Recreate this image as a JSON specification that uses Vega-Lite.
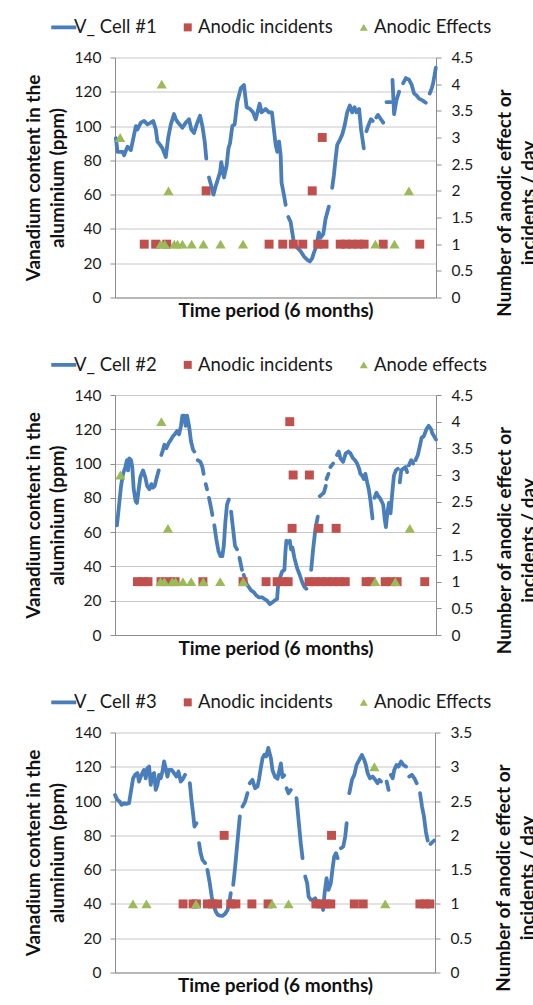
{
  "$schema": "https://vega.github.io/schema/vega-lite/v6.json",
  "padding": {"top": 17.5, "left": 24, "right": 0, "bottom": 0},
  "background": "white",
  "bounds": "flush",
  "spacing": 97.5,
  "config": {
    "font": "Lato",
    "view": {"stroke": null},
    "axis": {
      "labelFont": "Lato", "titleFont": "Lato", "labelColor": "#1a1a1a", "titleColor": "#111",
      "domainColor": "#8c8c8c", "tickColor": "#8c8c8c", "gridColor": "#c8c8c8", "gridWidth": 1.2,
      "labelFontSize": 15.5, "titleFontSize": 19, "titleFontWeight": "bold", "titleLineHeight": 24
    },
    "axisX": {"labels": false, "ticks": false, "grid": false, "titlePadding": 4},
    "axisLeft": {"grid": true, "tickSize": 5, "labelPadding": 9, "titlePadding": 7},
    "axisRight": {"grid": false, "tickSize": 5, "labelPadding": 10, "titlePadding": 18, "titleAngle": -90, "titleY": 145},
    "legend": {"labelFont": "Lato", "labelFontSize": 18.5, "labelColor": "#1a1a1a", "orient": "none", "legendX": -60.5, "legendY": -39.5, "direction": "horizontal", "title": null, "symbolSize": 625, "labelOffset": 1, "columnPadding": 21}
  },
  "datasets": {
    "line1": [
      {"t":0.5,"v":93},{"t":1.4,"v":85},{"t":4.2,"v":85},{"t":5.1,"v":83},{"t":7.0,"v":88},{"t":8.9,"v":86},{"t":11.7,"v":100},{"t":12.6,"v":98},{"t":14.5,"v":102},{"t":16.3,"v":103},{"t":18.2,"v":101},{"t":20.1,"v":102},{"t":21.4,"v":103},{"t":22.9,"v":98},{"t":23.8,"v":91},{"t":25.3,"v":89},{"t":26.6,"v":87},{"t":28.5,"v":82},{"t":29.8,"v":93},{"t":31.3,"v":101},{"t":33.1,"v":107},{"t":34.1,"v":104},{"t":35.4,"v":102},{"t":37.8,"v":99},{"t":39.7,"v":102},{"t":41.5,"v":104},{"t":42.8,"v":98},{"t":44.3,"v":96},{"t":45.8,"v":101},{"t":47.7,"v":106},{"t":49.0,"v":100},{"t":50.3,"v":91},{"t":51.2,"v":81},{"t":52.0,"v":null},
      {"t":52.7,"v":70},{"t":54.0,"v":65},{"t":55.2,"v":60},{"t":56.5,"v":65},{"t":57.4,"v":68},{"t":58.9,"v":73},{"t":59.6,"v":79},{"t":61.1,"v":70},{"t":62.6,"v":77},{"t":63.6,"v":87},{"t":64.5,"v":90},{"t":65.8,"v":100},{"t":67.1,"v":101},{"t":68.6,"v":114},{"t":70.5,"v":122},{"t":72.3,"v":124},{"t":73.8,"v":111},{"t":75.7,"v":110},{"t":77.4,"v":108},{"t":78.9,"v":104},{"t":81.1,"v":113},{"t":82.2,"v":108},{"t":84.5,"v":110},{"t":86.3,"v":108},{"t":88.0,"v":108},{"t":89.1,"v":98},{"t":90.1,"v":89},{"t":91.0,"v":85},{"t":92.0,"v":91},{"t":92.9,"v":83},{"t":93.4,"v":67},{"t":94.7,"v":60},{"t":95.7,"v":54},{"t":96.5,"v":null},
      {"t":97.2,"v":47},{"t":98.5,"v":44},{"t":99.4,"v":38},{"t":100.3,"v":32},{"t":102.2,"v":29},{"t":104.1,"v":27},{"t":105.9,"v":24},{"t":107.8,"v":22},{"t":109.3,"v":21},{"t":110.6,"v":23},{"t":111.5,"v":26},{"t":113.0,"v":30},{"t":114.3,"v":38},{"t":115.3,"v":35},{"t":116.8,"v":37},{"t":118.1,"v":46},{"t":119.9,"v":53},{"t":120.8,"v":null},
      {"t":121.8,"v":64},{"t":122.7,"v":71},{"t":123.7,"v":81},{"t":124.6,"v":89},{"t":126.1,"v":92},{"t":127.4,"v":95},{"t":128.7,"v":100},{"t":130.2,"v":108},{"t":131.7,"v":112},{"t":133.0,"v":108},{"t":134.3,"v":111},{"t":135.4,"v":108},{"t":136.9,"v":110},{"t":138.0,"v":98},{"t":139.5,"v":87},{"t":140.3,"v":null},
      {"t":141.0,"v":97},{"t":142.3,"v":101},{"t":143.5,"v":104},{"t":144.5,"v":103},{"t":145.3,"v":null},{"t":146.5,"v":105},{"t":147.5,"v":106.5},{"t":149.1,"v":104},{"t":150.4,"v":102},{"t":151.2,"v":null},{"t":152.2,"v":114},{"t":154.7,"v":114},{"t":155.2,"v":null},{"t":155.6,"v":127},{"t":156.5,"v":107},{"t":157.8,"v":115},{"t":159.3,"v":120},{"t":160.5,"v":null},{"t":161.6,"v":125},{"t":163.1,"v":128},{"t":164.9,"v":127},{"t":166.4,"v":124},{"t":167.7,"v":119},{"t":169.0,"v":118},{"t":170.5,"v":116},{"t":172.4,"v":115},{"t":174.3,"v":113.6},{"t":175.4,"v":null},{"t":176.5,"v":119},{"t":177.6,"v":122},{"t":178.4,"v":125},{"t":179.9,"v":134}
    ],
    "pts1": [
      {"t":16.4,"n":1,"type":"Anodic incidents"},{"t":22.8,"n":1,"type":"Anodic incidents"},{"t":29.0,"n":1,"type":"Anodic incidents"},{"t":86.4,"n":1,"type":"Anodic incidents"},{"t":94.1,"n":1,"type":"Anodic incidents"},{"t":100.0,"n":1,"type":"Anodic incidents"},{"t":105.3,"n":1,"type":"Anodic incidents"},{"t":113.7,"n":1,"type":"Anodic incidents"},{"t":117.2,"n":1,"type":"Anodic incidents"},{"t":126.3,"n":1,"type":"Anodic incidents"},{"t":129.6,"n":1,"type":"Anodic incidents"},{"t":133.0,"n":1,"type":"Anodic incidents"},{"t":136.4,"n":1,"type":"Anodic incidents"},{"t":139.7,"n":1,"type":"Anodic incidents"},{"t":150.4,"n":1,"type":"Anodic incidents"},{"t":170.9,"n":1,"type":"Anodic incidents"},
      {"t":51.1,"n":2,"type":"Anodic incidents"},{"t":110.6,"n":2,"type":"Anodic incidents"},{"t":116.2,"n":3,"type":"Anodic incidents"},
      {"t":25.6,"n":1,"type":"Anodic Effects"},{"t":27.9,"n":1,"type":"Anodic Effects"},{"t":33.2,"n":1,"type":"Anodic Effects"},{"t":35.0,"n":1,"type":"Anodic Effects"},{"t":37.8,"n":1,"type":"Anodic Effects"},{"t":43.0,"n":1,"type":"Anodic Effects"},{"t":49.6,"n":1,"type":"Anodic Effects"},{"t":59.2,"n":1,"type":"Anodic Effects"},{"t":71.8,"n":1,"type":"Anodic Effects"},{"t":146.0,"n":1,"type":"Anodic Effects"},{"t":156.7,"n":1,"type":"Anodic Effects"},
      {"t":30.0,"n":2,"type":"Anodic Effects"},{"t":164.8,"n":2,"type":"Anodic Effects"},{"t":2.9,"n":3,"type":"Anodic Effects"},{"t":26.2,"n":4,"type":"Anodic Effects"}
    ],
    "line2": [
      {"t":1.1,"v":64},{"t":3.4,"v":87},{"t":4.5,"v":94},{"t":5.8,"v":98},{"t":6.7,"v":102},{"t":7.3,"v":96},{"t":8.0,"v":103},{"t":9.0,"v":102},{"t":9.7,"v":98},{"t":10.5,"v":85},{"t":11.6,"v":78},{"t":12.3,"v":77},{"t":13.3,"v":85},{"t":14.2,"v":92},{"t":15.7,"v":96},{"t":17.0,"v":92},{"t":18.0,"v":87},{"t":19.3,"v":85},{"t":20.4,"v":88},{"t":21.3,"v":86},{"t":22.3,"v":87},{"t":23.2,"v":91},{"t":24.5,"v":96},{"t":25.2,"v":null},
      {"t":26.0,"v":105},{"t":26.9,"v":108},{"t":27.7,"v":111},{"t":28.8,"v":109},{"t":30.1,"v":112},{"t":31.4,"v":114},{"t":32.5,"v":116},{"t":33.5,"v":117},{"t":34.8,"v":119},{"t":35.9,"v":117},{"t":37.0,"v":122},{"t":37.8,"v":128},{"t":38.9,"v":128},{"t":39.6,"v":122},{"t":40.4,"v":128},{"t":41.5,"v":122},{"t":42.6,"v":113},{"t":43.8,"v":108},{"t":44.5,"v":107},{"t":45.4,"v":null},
      {"t":46.4,"v":102},{"t":47.9,"v":101},{"t":49.0,"v":98},{"t":49.7,"v":94},{"t":50.3,"v":null},{"t":50.9,"v":88},{"t":51.6,"v":85},{"t":52.1,"v":null},{"t":52.7,"v":80},{"t":53.9,"v":74},{"t":54.6,"v":70},{"t":55.1,"v":null},
      {"t":55.7,"v":64},{"t":56.8,"v":56},{"t":58.0,"v":49},{"t":59.1,"v":46},{"t":60.2,"v":46},{"t":61.0,"v":52},{"t":61.9,"v":66},{"t":62.8,"v":76},{"t":63.8,"v":79},{"t":64.4,"v":null},{"t":65.1,"v":72},{"t":66.2,"v":62},{"t":67.3,"v":52},{"t":68.4,"v":50},{"t":69.1,"v":null},{"t":69.8,"v":45},{"t":71.2,"v":38},{"t":71.7,"v":null},
      {"t":72.2,"v":35},{"t":73.7,"v":30},{"t":75.0,"v":28},{"t":76.3,"v":26},{"t":77.8,"v":25},{"t":79.3,"v":23},{"t":80.6,"v":22},{"t":82.5,"v":22},{"t":83.8,"v":21},{"t":85.3,"v":20},{"t":86.8,"v":18},{"t":88.1,"v":19},{"t":89.4,"v":20},{"t":90.9,"v":21},{"t":91.4,"v":28},{"t":92.4,"v":33},{"t":93.7,"v":37},{"t":95.0,"v":38},{"t":95.6,"v":49},{"t":96.1,"v":55},{"t":97.1,"v":54},{"t":98.0,"v":55},{"t":98.7,"v":50},{"t":99.5,"v":51},{"t":100.6,"v":45},{"t":102.1,"v":39},{"t":103.6,"v":35},{"t":104.9,"v":31},{"t":106.2,"v":28},{"t":107.3,"v":27},{"t":108.5,"v":null},
      {"t":110.0,"v":38},{"t":111.1,"v":50},{"t":112.4,"v":62},{"t":113.7,"v":69},{"t":114.2,"v":null},{"t":114.8,"v":81},{"t":116.0,"v":82},{"t":117.1,"v":83},{"t":118.2,"v":87},{"t":118.4,"v":null},{"t":118.6,"v":91},{"t":119.7,"v":94},{"t":120.2,"v":null},{"t":120.8,"v":98},{"t":122.3,"v":100},{"t":123.4,"v":null},
      {"t":124.5,"v":105},{"t":125.5,"v":107},{"t":126.4,"v":103},{"t":127.9,"v":101},{"t":129.4,"v":106},{"t":130.9,"v":107},{"t":132.0,"v":106},{"t":133.5,"v":103},{"t":134.6,"v":102},{"t":135.8,"v":100},{"t":136.9,"v":97},{"t":137.6,"v":94},{"t":138.6,"v":93},{"t":139.5,"v":91},{"t":140.4,"v":94},{"t":141.4,"v":89},{"t":142.3,"v":85},{"t":143.3,"v":78},{"t":144.4,"v":68},{"t":145.0,"v":null},
      {"t":145.5,"v":80},{"t":146.6,"v":83},{"t":147.6,"v":81},{"t":148.5,"v":80},{"t":149.5,"v":78},{"t":150.4,"v":76},{"t":151.2,"v":68},{"t":151.9,"v":63},{"t":152.6,"v":70},{"t":153.6,"v":77},{"t":154.5,"v":71},{"t":155.4,"v":82},{"t":156.4,"v":93},{"t":157.5,"v":96},{"t":158.6,"v":97},{"t":159.1,"v":null},
      {"t":159.7,"v":89},{"t":160.5,"v":96},{"t":161.6,"v":97},{"t":162.9,"v":98},{"t":163.8,"v":95},{"t":164.3,"v":null},{"t":164.8,"v":99},{"t":166.1,"v":102},{"t":167.2,"v":100},{"t":167.8,"v":null},{"t":168.5,"v":102},{"t":169.8,"v":105},{"t":170.9,"v":110},{"t":171.9,"v":115},{"t":173.2,"v":116},{"t":174.6,"v":120},{"t":175.9,"v":122},{"t":177.3,"v":120},{"t":177.8,"v":118},{"t":180.0,"v":114}
    ],
    "pts2": [
      {"t":12.6,"n":1,"type":"Anodic incidents"},{"t":15.7,"n":1,"type":"Anodic incidents"},{"t":18.5,"n":1,"type":"Anodic incidents"},{"t":25.8,"n":1,"type":"Anodic incidents"},{"t":29.7,"n":1,"type":"Anodic incidents"},{"t":33.7,"n":1,"type":"Anodic incidents"},{"t":49.3,"n":1,"type":"Anodic incidents"},{"t":71.8,"n":1,"type":"Anodic incidents"},{"t":84.7,"n":1,"type":"Anodic incidents"},{"t":90.9,"n":1,"type":"Anodic incidents"},{"t":94.2,"n":1,"type":"Anodic incidents"},{"t":97.1,"n":1,"type":"Anodic incidents"},{"t":108.8,"n":1,"type":"Anodic incidents"},{"t":112.2,"n":1,"type":"Anodic incidents"},{"t":115.6,"n":1,"type":"Anodic incidents"},{"t":118.9,"n":1,"type":"Anodic incidents"},{"t":122.3,"n":1,"type":"Anodic incidents"},{"t":125.7,"n":1,"type":"Anodic incidents"},{"t":129.1,"n":1,"type":"Anodic incidents"},{"t":140.8,"n":1,"type":"Anodic incidents"},{"t":143.6,"n":1,"type":"Anodic incidents"},{"t":151.5,"n":1,"type":"Anodic incidents"},{"t":154.8,"n":1,"type":"Anodic incidents"},{"t":158.2,"n":1,"type":"Anodic incidents"},{"t":173.7,"n":1,"type":"Anodic incidents"},
      {"t":99.3,"n":2,"type":"Anodic incidents"},{"t":114.3,"n":2,"type":"Anodic incidents"},{"t":124.0,"n":2,"type":"Anodic incidents"},{"t":99.9,"n":3,"type":"Anodic incidents"},{"t":109.0,"n":3,"type":"Anodic incidents"},{"t":98.0,"n":4,"type":"Anodic incidents"},
      {"t":25.5,"n":1,"type":"Anode effects"},{"t":27.7,"n":1,"type":"Anode effects"},{"t":32.1,"n":1,"type":"Anode effects"},{"t":34.0,"n":1,"type":"Anode effects"},{"t":38.1,"n":1,"type":"Anode effects"},{"t":42.7,"n":1,"type":"Anode effects"},{"t":49.5,"n":1,"type":"Anode effects"},{"t":59.0,"n":1,"type":"Anode effects"},{"t":71.9,"n":1,"type":"Anode effects"},{"t":145.9,"n":1,"type":"Anode effects"},{"t":157.2,"n":1,"type":"Anode effects"},
      {"t":29.7,"n":2,"type":"Anode effects"},{"t":165.3,"n":2,"type":"Anode effects"},{"t":3.0,"n":3,"type":"Anode effects"},{"t":26.0,"n":4,"type":"Anode effects"}
    ],
    "line3": [
      {"t":0.0,"v":103.6},{"t":1.3,"v":100.7},{"t":2.6,"v":99.7},{"t":3.8,"v":97.8},{"t":5.1,"v":98.8},{"t":6.4,"v":98.4},{"t":7.9,"v":98.8},{"t":8.8,"v":104.6},{"t":10.2,"v":113.3},{"t":11.3,"v":115.3},{"t":12.6,"v":116.3},{"t":13.5,"v":111.4},{"t":14.5,"v":114.3},{"t":15.4,"v":116.3},{"t":16.3,"v":118.2},{"t":17.3,"v":113.3},{"t":18.2,"v":119.2},{"t":19.2,"v":120.1},{"t":20.1,"v":109.4},{"t":21.0,"v":115.3},{"t":22.0,"v":116.3},{"t":22.9,"v":106.5},{"t":23.9,"v":109.4},{"t":24.8,"v":115.3},{"t":25.7,"v":113.3},{"t":26.7,"v":117.2},{"t":27.6,"v":123.1},{"t":28.5,"v":119.2},{"t":29.5,"v":114.3},{"t":30.4,"v":118.2},{"t":31.9,"v":118.2},{"t":33.2,"v":116.3},{"t":34.6,"v":114.3},{"t":35.7,"v":117.2},{"t":37.0,"v":111.4},{"t":37.9,"v":112.4},{"t":39.4,"v":115.3},{"t":40.7,"v":null},
      {"t":42.1,"v":110.4},{"t":43.0,"v":100.7},{"t":43.9,"v":92.9},{"t":44.7,"v":85.1},{"t":45.8,"v":87.1},{"t":46.5,"v":null},{"t":47.3,"v":75.4},{"t":48.2,"v":69.6},{"t":49.2,"v":65.7},{"t":50.7,"v":63.8},{"t":51.3,"v":null},
      {"t":52.0,"v":59.9},{"t":53.3,"v":52.1},{"t":54.4,"v":44.3},{"t":55.6,"v":38.5},{"t":56.7,"v":35.6},{"t":57.8,"v":33.6},{"t":59.1,"v":33.2},{"t":60.4,"v":33.0},{"t":61.9,"v":34.2},{"t":63.3,"v":36.5},{"t":64.2,"v":39.5},{"t":65.1,"v":46.3},{"t":65.8,"v":null},
      {"t":66.5,"v":51.1},{"t":67.6,"v":61.8},{"t":68.9,"v":76.4},{"t":70.2,"v":91.0},{"t":70.9,"v":null},{"t":71.7,"v":96.8},{"t":73.2,"v":99.7},{"t":74.5,"v":104.6},{"t":75.1,"v":null},
      {"t":75.8,"v":110.4},{"t":77.3,"v":112.4},{"t":78.8,"v":107.5},{"t":80.2,"v":108.5},{"t":81.1,"v":113.3},{"t":82.0,"v":119.2},{"t":83.0,"v":125.0},{"t":84.0,"v":127},{"t":85.0,"v":126},{"t":86.2,"v":131},{"t":87.7,"v":125},{"t":88.6,"v":118},{"t":90.1,"v":114},{"t":91.4,"v":113},{"t":92.5,"v":118},{"t":93.3,"v":122},{"t":94.2,"v":114},{"t":95.2,"v":115},{"t":95.8,"v":null},
      {"t":96.5,"v":107.5},{"t":97.6,"v":104.6},{"t":98.9,"v":106.5},{"t":99.8,"v":null},{"t":102.1,"v":101.7},{"t":103.6,"v":85.1},{"t":104.5,"v":75.4},{"t":105.5,"v":66.7},{"t":106.2,"v":null},
      {"t":107.0,"v":56.0},{"t":108.1,"v":52.1},{"t":108.9,"v":44.3},{"t":110.2,"v":42.4},{"t":111.5,"v":42.4},{"t":112.6,"v":43.3},{"t":113.9,"v":40.4},{"t":115.8,"v":40.4},{"t":117.1,"v":36.5},{"t":117.9,"v":46.3},{"t":119.0,"v":55.0},{"t":120.1,"v":48.2},{"t":121.4,"v":52.1},{"t":122.4,"v":60.8},{"t":123.3,"v":67.6},{"t":124.3,"v":69.6},{"t":125.2,"v":66.7},{"t":126.0,"v":null},
      {"t":127.1,"v":72.5},{"t":128.4,"v":73.5},{"t":129.5,"v":79.3},{"t":130.3,"v":87.1},{"t":131.0,"v":null},
      {"t":131.8,"v":104.6},{"t":133.3,"v":112.4},{"t":134.6,"v":115.3},{"t":135.9,"v":121.1},{"t":137.4,"v":124.0},{"t":138.9,"v":126.9},{"t":140.2,"v":124.0},{"t":141.1,"v":121.1},{"t":142.1,"v":116.3},{"t":143.4,"v":113.3},{"t":144.9,"v":114.3},{"t":146.4,"v":112.4},{"t":147.7,"v":110.4},{"t":148.7,"v":112.4},{"t":149.6,"v":111.4},{"t":150.5,"v":null},
      {"t":152.8,"v":111.4},{"t":153.9,"v":106.5},{"t":154.5,"v":null},{"t":155.2,"v":115.3},{"t":156.2,"v":113.3},{"t":157.1,"v":118.2},{"t":158.4,"v":121.1},{"t":159.5,"v":120.1},{"t":160.9,"v":123.1},{"t":162.2,"v":121.1},{"t":163.7,"v":120.1},{"t":164.6,"v":null},
      {"t":165.5,"v":114.3},{"t":167.0,"v":115.3},{"t":168.4,"v":113.3},{"t":169.7,"v":110.4},{"t":170.6,"v":null},{"t":171.6,"v":104.6},{"t":172.7,"v":96.8},{"t":173.8,"v":91.0},{"t":174.9,"v":81.9},{"t":175.9,"v":77.0},{"t":176.5,"v":null},{"t":177.5,"v":75},{"t":179.5,"v":77}
    ],
    "pts3": [
      {"t":38.3,"n":1,"type":"Anodic incidents"},{"t":43.9,"n":1,"type":"Anodic incidents"},{"t":45.8,"n":1,"type":"Anodic incidents"},{"t":52.0,"n":1,"type":"Anodic incidents"},{"t":54.8,"n":1,"type":"Anodic incidents"},{"t":57.7,"n":1,"type":"Anodic incidents"},{"t":65.1,"n":1,"type":"Anodic incidents"},{"t":68.0,"n":1,"type":"Anodic incidents"},{"t":77.0,"n":1,"type":"Anodic incidents"},{"t":86.1,"n":1,"type":"Anodic incidents"},{"t":113.0,"n":1,"type":"Anodic incidents"},{"t":115.8,"n":1,"type":"Anodic incidents"},{"t":118.6,"n":1,"type":"Anodic incidents"},{"t":121.4,"n":1,"type":"Anodic incidents"},{"t":134.6,"n":1,"type":"Anodic incidents"},{"t":139.6,"n":1,"type":"Anodic incidents"},{"t":171.5,"n":1,"type":"Anodic incidents"},{"t":174.5,"n":1,"type":"Anodic incidents"},{"t":177.1,"n":1,"type":"Anodic incidents"},
      {"t":61.4,"n":2,"type":"Anodic incidents"},{"t":121.8,"n":2,"type":"Anodic incidents"},
      {"t":10.1,"n":1,"type":"Anodic Effects"},{"t":17.7,"n":1,"type":"Anodic Effects"},{"t":45.6,"n":1,"type":"Anodic Effects"},{"t":88.4,"n":1,"type":"Anodic Effects"},{"t":97.6,"n":1,"type":"Anodic Effects"},{"t":152.0,"n":1,"type":"Anodic Effects"},{"t":145.9,"n":3,"type":"Anodic Effects"}
    ]
  },
  "vconcat": [
    {
      "width": 321, "height": 240,
      "layer": [
        {
          "data": {"name": "line1"},
          "mark": {"type": "line", "strokeWidth": 3.8, "strokeCap": "round", "strokeJoin": "round"},
          "encoding": {
            "x": {"field": "t", "type": "quantitative", "scale": {"domain": [0, 180], "nice": false}, "axis": {"title": "Time period (6 months)"}},
            "y": {"field": "v", "type": "quantitative", "scale": {"domain": [0, 140], "nice": false}, "axis": {"orient": "left", "values": [0,20,40,60,80,100,120,140], "title": ["Vanadium content in the", "aluminium (ppm)"]}},
            "color": {"datum": "V_ Cell #1", "type": "nominal", "scale": {"domain": ["V_ Cell #1", "Anodic incidents", "Anodic Effects"], "range": ["#4A7EBB", "#C0504D", "#9BBB59"]},
              "legend": {"title": null, "encode": {"symbols": {"update": {
                  "shape": {"signal": "datum.value === 'V_ Cell #1' ? 'stroke' : (datum.value === 'Anodic incidents' ? 'square' : 'triangle-up')"},
                  "size": {"signal": "datum.value === 'V_ Cell #1' ? 625 : 64"},
                  "fill": {"signal": "datum.value === 'V_ Cell #1' ? 'transparent' : (datum.value === 'Anodic incidents' ? '#C0504D' : '#9BBB59')"},
                  "stroke": {"value": "#4A7EBB"},
                  "strokeWidth": {"signal": "datum.value === 'V_ Cell #1' ? 3.8 : 0"}}}}}}
          }
        },
        {
          "data": {"name": "pts1"},
          "mark": {"type": "point", "filled": true, "opacity": 1},
          "encoding": {
            "x": {"field": "t", "type": "quantitative"},
            "y": {"field": "n", "type": "quantitative", "scale": {"domain": [0, 4.5], "nice": false}, "axis": {"orient": "right", "values": [0,0.5,1,1.5,2,2.5,3,3.5,4,4.5], "format": "~g", "title": ["Number of anodic effect or", "incidents / day"]}},
            "color": {"field": "type", "type": "nominal", "scale": {"domain": ["V_ Cell #1", "Anodic incidents", "Anodic Effects"], "range": ["#4A7EBB", "#C0504D", "#9BBB59"]}, "legend": {"title": null}},
            "shape": {"field": "type", "type": "nominal", "scale": {"domain": ["Anodic incidents", "Anodic Effects"], "range": ["square", "triangle-up"]}, "legend": null},
            "size": {"field": "type", "type": "nominal", "scale": {"domain": ["Anodic incidents", "Anodic Effects"], "range": [80, 105]}, "legend": null}
          }
        }
      ],
      "resolve": {"scale": {"y": "independent"}}
    },
    {
      "width": 321, "height": 240,
      "layer": [
        {
          "data": {"name": "line2"},
          "mark": {"type": "line", "strokeWidth": 3.8, "strokeCap": "round", "strokeJoin": "round"},
          "encoding": {
            "x": {"field": "t", "type": "quantitative", "scale": {"domain": [0, 180], "nice": false}, "axis": {"title": "Time period (6 months)"}},
            "y": {"field": "v", "type": "quantitative", "scale": {"domain": [0, 140], "nice": false}, "axis": {"orient": "left", "values": [0,20,40,60,80,100,120,140], "title": ["Vanadium content in the", "aluminium (ppm)"]}},
            "color": {"datum": "V_ Cell #2", "type": "nominal", "scale": {"domain": ["V_ Cell #2", "Anodic incidents", "Anode effects"], "range": ["#4A7EBB", "#C0504D", "#9BBB59"]},
              "legend": {"title": null, "encode": {"symbols": {"update": {
                  "shape": {"signal": "datum.value === 'V_ Cell #2' ? 'stroke' : (datum.value === 'Anodic incidents' ? 'square' : 'triangle-up')"},
                  "size": {"signal": "datum.value === 'V_ Cell #2' ? 625 : 64"},
                  "fill": {"signal": "datum.value === 'V_ Cell #2' ? 'transparent' : (datum.value === 'Anodic incidents' ? '#C0504D' : '#9BBB59')"},
                  "stroke": {"value": "#4A7EBB"},
                  "strokeWidth": {"signal": "datum.value === 'V_ Cell #2' ? 3.8 : 0"}}}}}}
          }
        },
        {
          "data": {"name": "pts2"},
          "mark": {"type": "point", "filled": true, "opacity": 1},
          "encoding": {
            "x": {"field": "t", "type": "quantitative"},
            "y": {"field": "n", "type": "quantitative", "scale": {"domain": [0, 4.5], "nice": false}, "axis": {"orient": "right", "values": [0,0.5,1,1.5,2,2.5,3,3.5,4,4.5], "format": "~g", "title": ["Number of anodic effect or", "incidents / day"]}},
            "color": {"field": "type", "type": "nominal", "scale": {"domain": ["V_ Cell #2", "Anodic incidents", "Anode effects"], "range": ["#4A7EBB", "#C0504D", "#9BBB59"]}, "legend": {"title": null}},
            "shape": {"field": "type", "type": "nominal", "scale": {"domain": ["Anodic incidents", "Anode effects"], "range": ["square", "triangle-up"]}, "legend": null},
            "size": {"field": "type", "type": "nominal", "scale": {"domain": ["Anodic incidents", "Anode effects"], "range": [80, 105]}, "legend": null}
          }
        }
      ],
      "resolve": {"scale": {"y": "independent"}}
    },
    {
      "width": 320, "height": 240,
      "layer": [
        {
          "data": {"name": "line3"},
          "mark": {"type": "line", "strokeWidth": 3.8, "strokeCap": "round", "strokeJoin": "round"},
          "encoding": {
            "x": {"field": "t", "type": "quantitative", "scale": {"domain": [0, 180], "nice": false}, "axis": {"title": "Time period (6 months)"}},
            "y": {"field": "v", "type": "quantitative", "scale": {"domain": [0, 140], "nice": false}, "axis": {"orient": "left", "values": [0,20,40,60,80,100,120,140], "title": ["Vanadium content in the", "aluminium (ppm)"]}},
            "color": {"datum": "V_ Cell #3", "type": "nominal", "scale": {"domain": ["V_ Cell #3", "Anodic incidents", "Anodic Effects"], "range": ["#4A7EBB", "#C0504D", "#9BBB59"]},
              "legend": {"title": null, "encode": {"symbols": {"update": {
                  "shape": {"signal": "datum.value === 'V_ Cell #3' ? 'stroke' : (datum.value === 'Anodic incidents' ? 'square' : 'triangle-up')"},
                  "size": {"signal": "datum.value === 'V_ Cell #3' ? 625 : 64"},
                  "fill": {"signal": "datum.value === 'V_ Cell #3' ? 'transparent' : (datum.value === 'Anodic incidents' ? '#C0504D' : '#9BBB59')"},
                  "stroke": {"value": "#4A7EBB"},
                  "strokeWidth": {"signal": "datum.value === 'V_ Cell #3' ? 3.8 : 0"}}}}}}
          }
        },
        {
          "data": {"name": "pts3"},
          "mark": {"type": "point", "filled": true, "opacity": 1},
          "encoding": {
            "x": {"field": "t", "type": "quantitative"},
            "y": {"field": "n", "type": "quantitative", "scale": {"domain": [0, 3.5], "nice": false}, "axis": {"orient": "right", "values": [0,0.5,1,1.5,2,2.5,3,3.5], "format": "~g", "title": ["Number of anodic effect or", "incidents / day"]}},
            "color": {"field": "type", "type": "nominal", "scale": {"domain": ["V_ Cell #3", "Anodic incidents", "Anodic Effects"], "range": ["#4A7EBB", "#C0504D", "#9BBB59"]}, "legend": {"title": null}},
            "shape": {"field": "type", "type": "nominal", "scale": {"domain": ["Anodic incidents", "Anodic Effects"], "range": ["square", "triangle-up"]}, "legend": null},
            "size": {"field": "type", "type": "nominal", "scale": {"domain": ["Anodic incidents", "Anodic Effects"], "range": [80, 105]}, "legend": null}
          }
        }
      ],
      "resolve": {"scale": {"y": "independent"}}
    }
  ],
  "resolve": {"scale": {"color": "independent", "shape": "independent", "size": "independent"}, "legend": {"color": "independent"}}
}
